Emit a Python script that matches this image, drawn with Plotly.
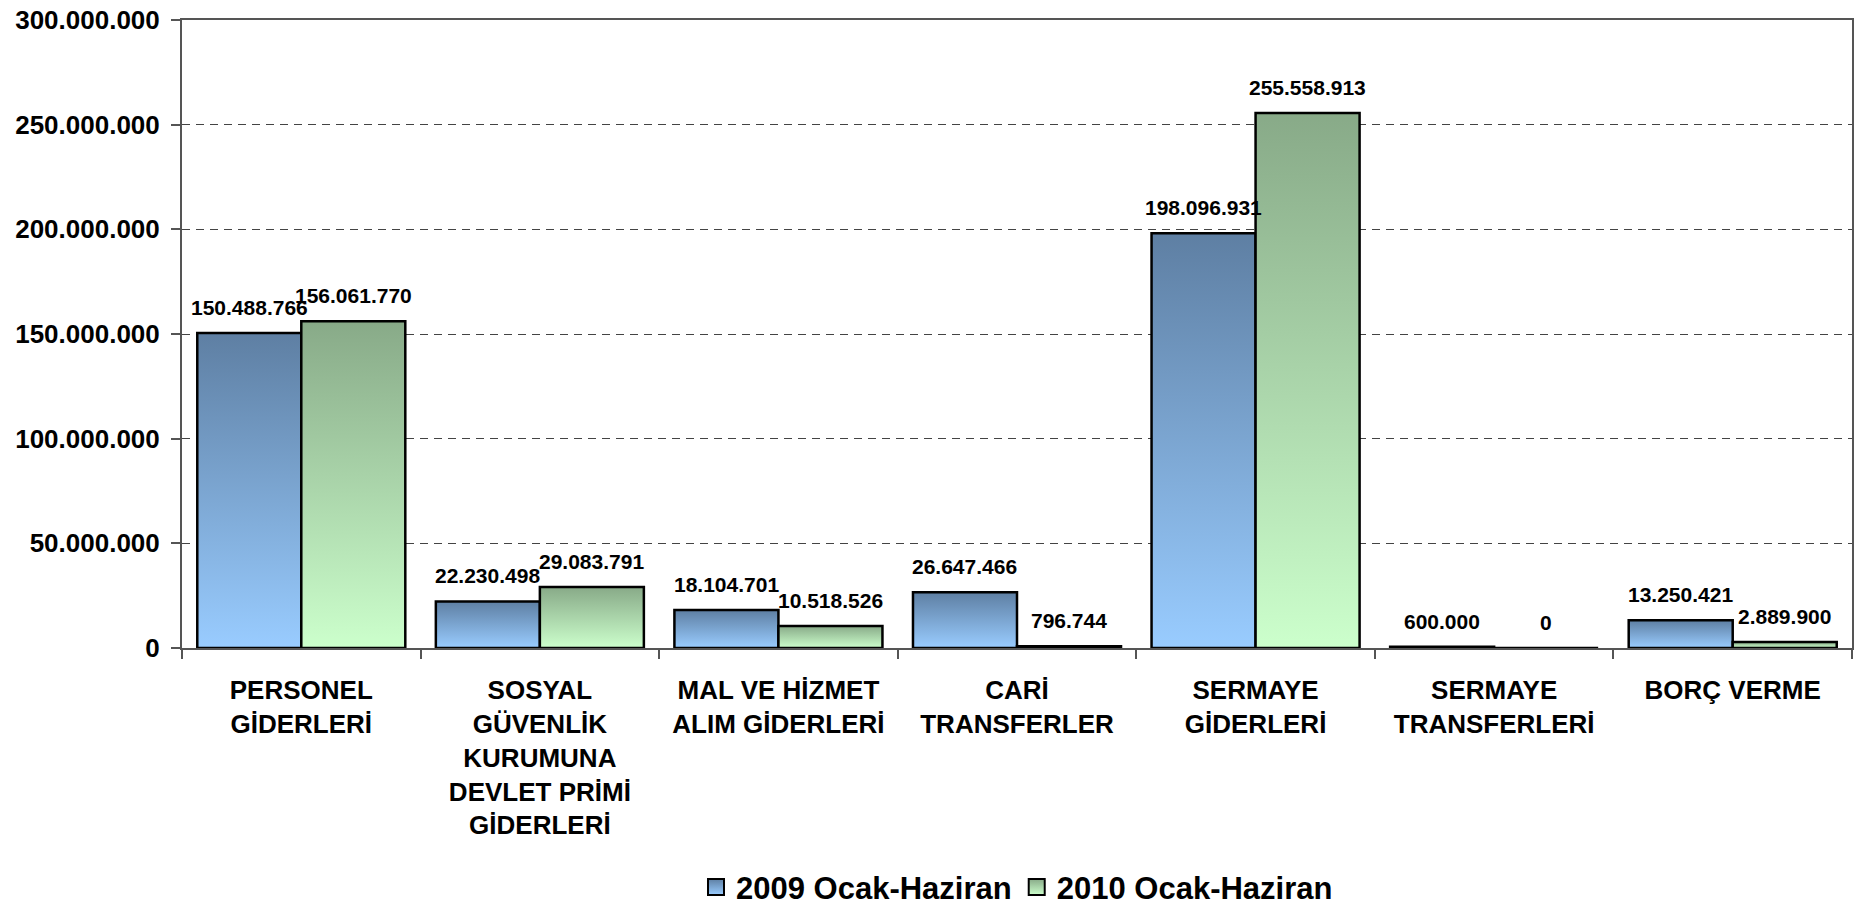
import plotly.graph_objects as go

# Kategoriler ve değerler
categories = [
    "PERSONEL<br>GİDERLERİ",
    "SOSYAL<br>GÜVENLİK<br>KURUMUNA<br>DEVLET PRİMİ<br>GİDERLERİ",
    "MAL VE HİZMET<br>ALIM GİDERLERİ",
    "CARİ<br>TRANSFERLER",
    "SERMAYE<br>GİDERLERİ",
    "SERMAYE<br>TRANSFERLERİ",
    "BORÇ VERME",
]
values_2009 = [150488766, 22230498, 18104701, 26647466, 198096931, 600000, 13250421]
values_2010 = [156061770, 29083791, 10518526, 796744, 255558913, 0, 2889900]
series_names = ["2009 Ocak-Haziran", "2010 Ocak-Haziran"]

FONT = "Liberation Sans, Arial, sans-serif"
BAR_W = 0.436
# (üst renk, alt renk)
COLORS = [("#5e7fa3", "#99ccff"), ("#88aa88", "#ccffcc")]


def fmt(v):
    return f"{v:,}".replace(",", ".")


fig = go.Figure()
annotations = []

for s, vals in enumerate([values_2009, values_2010]):
    top, bottom = COLORS[s]
    for i, v in enumerate(vals):
        x0 = i - BAR_W if s == 0 else i
        x1 = x0 + BAR_W
        fig.add_scatter(
            x=[x0, x0, x1, x1, x0], y=[0, v, v, 0, 0],
            mode="lines", fill="toself",
            fillgradient=dict(type="vertical", colorscale=[[0, bottom], [1, top]]),
            line=dict(color="black", width=2.5),
            showlegend=False, hoverinfo="skip",
        )
        annotations.append(dict(
            x=(x0 + x1) / 2, y=v, text=fmt(v), showarrow=False,
            xanchor="center", yanchor="bottom", yshift=12,
            font=dict(family=FONT, size=21, color="black", weight="bold"),
        ))
    # Lejant için boş iz
    fig.add_scatter(
        x=[None], y=[None], mode="markers", name=series_names[s],
        marker=dict(symbol="square", size=16, color=top,
                    gradient=dict(type="vertical", color=bottom),
                    line=dict(color="black", width=2)),
    )

fig.update_layout(
    width=1858, height=897,
    margin=dict(l=174, r=14, t=12, b=257, autoexpand=False),
    plot_bgcolor="white", paper_bgcolor="white",
    separators=",.",
    font=dict(family=FONT, color="black"),
    annotations=annotations,
    legend=dict(
        orientation="h", x=0.5, xanchor="center", y=-0.381, yanchor="middle",
        font=dict(family=FONT, size=31, color="black", weight="bold"),
        itemsizing="trace",
    ),
    xaxis=dict(
        range=[-0.5, 6.5], tickmode="array", tickvals=list(range(len(categories))),
        ticktext=categories, ticks="", showgrid=False, zeroline=False,
        showline=True, linecolor="#555", linewidth=2, mirror=True,
        tickfont=dict(family=FONT, size=26, color="black", weight="bold"),
        ticklabelstandoff=18, automargin=False,
        minor=dict(tickmode="array", tickvals=[k - 0.5 for k in range(len(categories) + 1)],
                   ticks="outside", ticklen=9, tickcolor="#555", tickwidth=1.5, showgrid=False),
    ),
    yaxis=dict(
        range=[0, 300000000], tick0=0, dtick=50000000, tickformat=",d",
        showgrid=True, gridcolor="#444", gridwidth=1, griddash="8px,6px",
        zeroline=False, showline=True, linecolor="#555", linewidth=2, mirror=True,
        ticks="outside", ticklen=9, tickcolor="#555", tickwidth=1.5,
        tickfont=dict(family=FONT, size=26, color="black", weight="bold"),
        ticklabelstandoff=6, automargin=False, ticklabeloverflow="allow",
    ),
)

fig.write_html("out.html")
